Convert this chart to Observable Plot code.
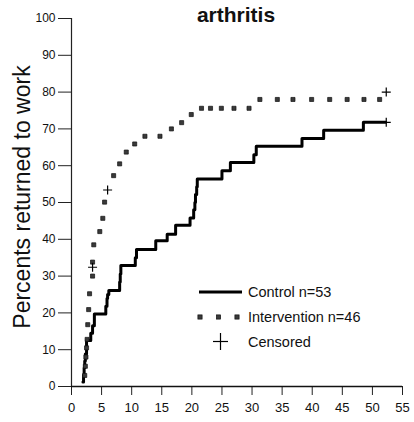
<!DOCTYPE html>
<html>
<head>
<meta charset="utf-8">
<script src="https://cdn.jsdelivr.net/npm/d3@7"></script>
<script src="https://cdn.jsdelivr.net/npm/@observablehq/plot@0.6"></script>
<style>
  html, body { margin: 0; padding: 0; background: #fff; }
  #wrap { position: relative; width: 414px; height: 422px; }
  #wrap svg.overlay { position: absolute; left: 0; top: 0; pointer-events: none; }
</style>
</head>
<body>
<div id="wrap"></div>
<script>
// ---- data ----
const title = "arthritis";
const yLabel = "Percents returned to work";
const xTicks = [0, 5, 10, 15, 20, 25, 30, 35, 40, 45, 50, 55];
const yTicks = [0, 10, 20, 30, 40, 50, 60, 70, 80, 90, 100];

// Control group: Kaplan-Meier step curve (weeks, % returned)
const controlT = [1.9, 2.0, 2.1, 2.2, 2.3, 2.5, 3.2, 3.5, 3.8, 5.7, 5.9, 6.0, 6.2, 8.0, 8.1, 8.2, 10.6, 10.8, 14.0, 15.9, 17.3, 19.7, 20.3, 20.5, 20.6, 20.8, 20.9, 25.0, 26.4, 30.3, 30.7, 38.3, 41.9, 48.5, 52.2];
const controlY = [1.2, 3.1, 5.0, 6.9, 8.8, 12.5, 14.5, 16.5, 19.7, 21.8, 23.9, 25.0, 26.1, 28.4, 30.6, 32.9, 35.0, 37.2, 39.6, 41.4, 43.8, 45.8, 48.0, 50.0, 52.2, 54.3, 56.4, 58.6, 60.9, 63.0, 65.3, 67.4, 69.6, 71.8, 71.8];

// Intervention group: drawn as square markers
const interT = [2.2, 2.3, 2.4, 2.5, 2.6, 2.7, 2.85, 3.0, 3.5, 3.5, 3.7, 4.7, 5.2, 5.5, 7.0, 8.0, 9.1, 10.5, 12.2, 14.7, 16.6, 18.3, 19.9, 21.6, 23.1, 24.9, 27.0, 29.5, 31.3, 34.2, 36.8, 39.9, 42.9, 45.8, 48.6, 51.2];
const interY = [3.0, 5.5, 8.0, 10.5, 12.8, 16.8, 20.9, 25.2, 30.0, 33.8, 38.5, 42.1, 45.7, 50.1, 57.3, 60.5, 63.7, 65.9, 68.0, 68.0, 70.0, 71.7, 73.9, 75.6, 75.6, 75.6, 75.6, 75.6, 78.0, 78.0, 78.0, 78.0, 78.0, 78.0, 78.0, 78.0];

// Censored marks
const censorT = [3.5, 6.0, 52.3, 52.3];
const censorY = [32.4, 53.4, 80.0, 71.8];

const legendLabels = ["Control n=53", "Intervention n=46", "Censored"];

// ---- build tables ----
const control = controlT.map((t, i) => ({t, y: controlY[i]}));
const inter = interT.map((t, i) => ({t, y: interY[i]}));
const censor = censorT.map((t, i) => ({t, y: censorY[i]}));

const plusSymbol = {
  draw(ctx, size) {
    const r = Math.sqrt(size / Math.PI);
    ctx.moveTo(-r, 0); ctx.lineTo(r, 0);
    ctx.moveTo(0, -r); ctx.lineTo(0, r);
  }
};

const font = "'Liberation Sans', Arial, sans-serif";

const chart = Plot.plot({
  width: 414,
  height: 422,
  marginLeft: 71,
  marginRight: 12,
  marginTop: 18,
  marginBottom: 36,
  style: {fontFamily: font, background: "white", color: "#111"},
  x: {domain: [0, 55]},
  y: {domain: [0, 100]},
  marks: [
    Plot.axisX({ticks: xTicks, tickSize: 9, tickPadding: 7, fontSize: 13, label: null, tickFormat: d => String(d), stroke: "#222"}),
    Plot.axisY({ticks: yTicks, tickSize: 13, tickPadding: 3, fontSize: 12, label: null, tickFormat: d => String(d), stroke: "#222"}),
    Plot.ruleX([0], {y1: 0, y2: 100, stroke: "#222", strokeWidth: 1.2}),
    Plot.ruleY([0], {x1: 0, x2: 55, stroke: "#111", strokeWidth: 1.6}),
    Plot.line(control, {x: "t", y: "y", curve: "step-after", stroke: "#000", strokeWidth: 3}),
    Plot.dot(inter, {x: "t", y: "y", symbol: "square", r: 2.3, fill: "#3a3a3a", stroke: "#111", strokeWidth: 0.7}),
    Plot.dot(censor, {x: "t", y: "y", symbol: plusSymbol, r: 4.5, stroke: "#000", strokeWidth: 1.2, fill: "none"})
  ]
});

const wrap = document.getElementById("wrap");
wrap.appendChild(chart);

// overlay: title, y label, legend
const ns = "http://www.w3.org/2000/svg";
const ov = document.createElementNS(ns, "svg");
ov.setAttribute("class", "overlay");
ov.setAttribute("width", 414);
ov.setAttribute("height", 422);
ov.style.fontFamily = font;
function el(tag, attrs, text) {
  const e = document.createElementNS(ns, tag);
  for (const k in attrs) e.setAttribute(k, attrs[k]);
  if (text != null) e.textContent = text;
  ov.appendChild(e);
  return e;
}
el("text", {x: 236, y: 22, "text-anchor": "middle", "font-size": 21, "font-weight": "bold", fill: "#111"}, title);
el("text", {transform: "translate(30,197) rotate(-90)", "text-anchor": "middle", "font-size": 23, fill: "#111"}, yLabel);

// legend
el("line", {x1: 199, x2: 242, y1: 292, y2: 292, stroke: "#000", "stroke-width": 3});
[200, 218.5, 237].forEach(x => el("rect", {x: x - 2.1, y: 317 - 2.1, width: 4.2, height: 4.2, fill: "#3a3a3a", stroke: "#111", "stroke-width": 0.7}));
el("line", {x1: 213, x2: 228, y1: 341.5, y2: 341.5, stroke: "#000", "stroke-width": 1.2});
el("line", {x1: 220.5, x2: 220.5, y1: 333, y2: 350, stroke: "#000", "stroke-width": 1.2});
legendLabels.forEach((s, i) => el("text", {x: 248, y: 297 + i * 25, "font-size": 14.5, fill: "#111"}, s));
wrap.appendChild(ov);
</script>
</body>
</html>
